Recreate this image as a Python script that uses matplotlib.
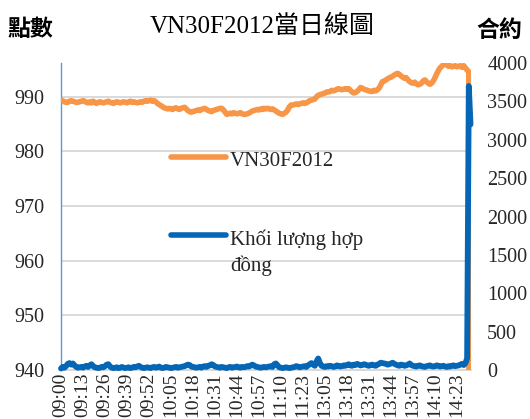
import matplotlib
matplotlib.use('Agg')
import matplotlib.pyplot as plt
from matplotlib.lines import Line2D
import pandas as pd

# ---------------- data ----------------
price = [
    989.4, 989.3, 989.1, 989.0, 989.0, 989.2, 989.3, 989.2, 989.1, 989.0, 989.0, 989.1, 989.2,
    989.3, 989.2, 989.0, 988.9, 989.1, 988.9, 989.2, 989.0, 988.8, 989.0, 989.1, 989.0, 988.9,
    989.0, 989.1, 989.2, 989.0, 988.9, 988.8, 989.0, 989.1, 989.0, 988.9, 989.0, 989.1, 989.0,
    988.9, 989.1, 989.2, 989.0, 989.1, 989.0, 988.9, 989.0, 989.1, 989.0, 989.2, 989.3, 989.2,
    989.3, 989.4, 989.2, 989.3, 989.1, 988.8, 988.6, 988.4, 988.2, 988.0, 987.9, 987.8, 987.9,
    987.8, 987.7, 987.9, 988.0, 987.8, 987.7, 987.9, 988.0, 988.1, 987.8, 987.5, 987.3, 987.2,
    987.3, 987.4, 987.5, 987.6, 987.5, 987.7, 987.8, 987.9, 987.7, 987.5, 987.4, 987.3, 987.5,
    987.6, 987.7, 987.8, 987.9, 987.9, 987.6, 987.2, 986.8, 986.9, 987.0, 986.9, 987.1, 987.0,
    986.9, 987.0, 987.1, 986.9, 986.8, 986.8, 986.9, 987.0, 987.2, 987.4, 987.5, 987.6, 987.7,
    987.6, 987.8, 987.7, 987.9, 987.8, 987.9, 987.8, 987.7, 987.8, 987.6, 987.4, 987.2, 987.0,
    986.9, 986.8, 987.0, 987.2, 987.6, 988.2, 988.5, 988.5, 988.6, 988.7, 988.6, 988.7, 988.8,
    988.9, 988.8, 988.9, 989.1, 989.3, 989.4, 989.5, 989.6, 990.0, 990.3, 990.4, 990.5, 990.6,
    990.7, 990.9, 990.9, 991.0, 991.2, 991.1, 991.2, 991.4, 991.5, 991.4, 991.3, 991.4, 991.5,
    991.4, 991.5, 991.2, 990.9, 990.7, 990.8, 991.0, 991.3, 991.7, 991.6, 991.4, 991.3, 991.2,
    991.1, 991.0, 991.0, 991.2, 991.1, 991.3, 991.6, 992.2, 992.8, 992.9, 993.1, 993.3, 993.5,
    993.6, 993.8, 994.0, 994.2, 994.3, 994.1, 993.8, 993.6, 993.4, 993.5, 993.1, 992.8, 992.6,
    992.5, 992.7, 992.4, 992.2, 992.3, 992.5, 992.9, 993.1, 992.8, 992.5, 992.3, 992.5, 992.9,
    993.5, 994.2, 994.8, 995.3, 995.6, 995.9, 996.0, 995.8, 995.6, 995.7, 995.5, 995.6, 995.7,
    995.5, 995.6, 995.7, 995.4, 995.7, 995.3, 994.9, 994.6, 0,
]

volume = [
    20, 40, 30, 50, 80, 90, 70, 85, 60, 40, 30, 35, 40,
    30, 45, 55, 40, 60, 75, 50, 35, 30, 25, 30, 40, 35,
    50, 70, 75, 45, 30, 25, 30, 35, 25, 30, 40, 30, 25,
    30, 35, 25, 30, 40, 35, 45, 55, 40, 30, 25, 30, 35,
    30, 25, 35, 40, 30, 35, 45, 30, 25, 30, 40, 35, 30,
    25, 30, 35, 40, 30, 35, 40, 45, 50, 60, 70, 65, 45,
    40, 35, 30, 35, 40, 30, 45, 50, 40, 55, 60, 75, 65,
    45, 40, 35, 30, 40, 35, 30, 25, 35, 40, 30, 35, 40,
    45, 35, 30, 40, 35, 40, 50, 45, 55, 70, 60, 45, 40,
    35, 30, 35, 40, 35, 40, 45, 50, 40, 75, 85, 60, 35,
    30, 25, 30, 35, 30, 25, 30, 35, 40, 50, 45, 35, 40,
    45, 50, 40, 60, 75, 90, 70, 55, 110, 150, 90, 55, 45,
    40, 50, 45, 55, 50, 40, 45, 60, 55, 45, 50, 60, 55,
    65, 75, 60, 55, 70, 65, 80, 70, 60, 65, 75, 70, 60,
    55, 65, 70, 60, 55, 70, 80, 95, 90, 85, 80, 70, 75,
    85, 95, 80, 70, 60, 55, 70, 65, 55, 60, 70, 85, 65,
    55, 50, 45, 55, 60, 50, 45, 40, 50, 55, 60, 50, 45,
    50, 60, 55, 45, 50, 55, 45, 40, 50, 45, 55, 60, 50,
    55, 60, 70, 80, 65, 90, 150, 3700, 3200,
]

morning = pd.date_range('2020-12-01 09:00', '2020-12-01 11:30', freq='min')
afternoon = pd.date_range('2020-12-01 13:00', '2020-12-01 14:30', freq='min')
categories = [t.strftime('%H:%M') for t in morning] + \
             [t.strftime('%H:%M') for t in afternoon] + ['14:45']

left_ticks = [940, 950, 960, 970, 980, 990]
right_ticks = [0, 500, 1000, 1500, 2000, 2500, 3000, 3500, 4000]
label_step = 13

title = 'VN30F2012當日線圖'
left_title = '點數'
right_title = '合約'
price_label = 'VN30F2012'
volume_label_lines = ['Khối lượng hợp', 'đồng']

# ---------------- style ----------------
ORANGE = '#F79646'
BLUE = '#0566B5'
GRID = '#D9D9D9'
TXT = '#262626'
plt.rcParams['font.family'] = ['Liberation Serif', 'Noto Sans CJK TC']

W, H = 530, 419
fig = plt.figure(figsize=(W / 100, H / 100), dpi=100)
ax = fig.add_axes([61 / W, 1 - 370 / H, (470.5 - 61) / W, (370 - 63) / H])
ax2 = ax.twinx()

x = list(range(len(categories)))
ax.plot(x, price, color=ORANGE, lw=4, solid_joinstyle='round', solid_capstyle='round', zorder=3)
ax2.plot(x, volume, color=BLUE, lw=4.2, solid_joinstyle='round', solid_capstyle='round',
         clip_on=False, zorder=3)

ax.set_xlim(0, len(categories) - 1)
ax.set_ylim(940, 996.2)
ax2.set_ylim(0, 4000)

ax.set_yticks(left_ticks)
ax2.set_yticks(right_ticks)
ax.set_xticks(x[::label_step])
ax.set_xticklabels(categories[::label_step], rotation=90)

ax.yaxis.grid(True, color=GRID, lw=1.4)
ax.set_axisbelow(True)

for s in ['top', 'right']:
    ax.spines[s].set_visible(False)
ax.spines['left'].set_color('#5B9BD5')
ax.spines['left'].set_linewidth(1.0)
ax.spines['bottom'].set_color(GRID)
ax.spines['bottom'].set_linewidth(1.4)
for s in ax2.spines.values():
    s.set_visible(False)

ax.tick_params(axis='y', length=0, pad=12, labelsize=14.5, labelcolor=TXT)
ax.tick_params(axis='x', length=0, pad=2, labelsize=14, labelcolor=TXT)
ax2.tick_params(axis='y', length=0, pad=12, labelsize=14.5, labelcolor=TXT)

# titles
fig.text(262 / W, 1 - 33 / H, title, ha='center', va='baseline', fontsize=18, color='black')
fig.text(30 / W, 1 - 29 / H, left_title, ha='center', va='center', fontsize=16.5,
         fontweight='bold', family=['Noto Sans CJK TC'], color='black')
fig.text(499 / W, 1 - 30 / H, right_title, ha='center', va='center', fontsize=16.5,
         fontweight='bold', family=['Noto Sans CJK TC'], color='black')

# legend (drawn manually to mimic the wrapped label layout)
fig.add_artist(Line2D([171 / W, 226 / W], [1 - 157.3 / H] * 2, transform=fig.transFigure,
                      color=ORANGE, lw=4, solid_capstyle='round'))
fig.text(230 / W, 1 - 166.5 / H, price_label, ha='left', va='baseline', fontsize=15, color=TXT)
fig.add_artist(Line2D([171 / W, 226 / W], [1 - 235 / H] * 2, transform=fig.transFigure,
                      color=BLUE, lw=4, solid_capstyle='round'))
fig.text(230 / W, 1 - 245 / H, volume_label_lines[0], ha='left', va='baseline', fontsize=15, color=TXT)
fig.text(230 / W, 1 - 271.5 / H, volume_label_lines[1], ha='left', va='baseline', fontsize=15, color=TXT)

fig.savefig('out.png', dpi=100)
